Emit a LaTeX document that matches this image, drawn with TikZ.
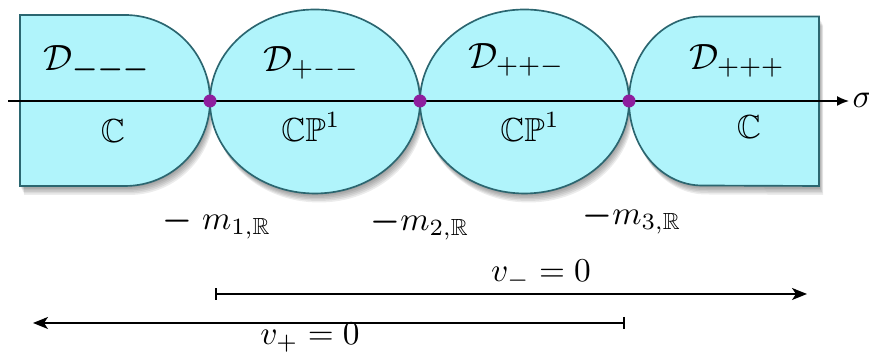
\documentclass[tikz,border=0pt]{standalone}
\usepackage{amsmath,amssymb}
\usetikzlibrary{arrows.meta}
\definecolor{regfill}{HTML}{B0F4FB}
\definecolor{regedge}{HTML}{2B6670}
\definecolor{dotcol}{HTML}{8E1E9E}
\tikzset{
  region/.style={fill=regfill, draw=regedge, line width=0.5pt},
  shadowlayer/.style={fill=black, fill opacity=0.075, draw=none},
  dot/.style={circle, fill=dotcol, draw=none, inner sep=0pt, minimum size=3.9pt},
  lbl/.style={inner sep=0pt},
  dlbl/.style={inner sep=0pt, font=\fontsize{10.95}{13}\selectfont},
  axisline/.style={line width=0.45pt, -{Latex[length=3.6pt,width=3pt]}},
  rangeline/.style={line width=0.55pt, {Bar[width=3.6pt,line width=0.55pt]}-{Stealth[length=4.5pt,width=3.6pt,inset=1.2pt]}},
  shapeL/.style={insert path={(20,15) -- (125,15) arc[start angle=90, end angle=-90, x radius=25.5pt, y radius=25.65pt] -- (20,186) -- cycle}},
  shapeA/.style={insert path={(315,101.5) ellipse [x radius=31.5pt, y radius=27.6pt]}},
  shapeB/.style={insert path={(524.5,101.5) ellipse [x radius=31.35pt, y radius=27.6pt]}},
  shapeR/.style={insert path={(819,16.5) -- (702,16.5) arc[start angle=90, end angle=270, x radius=21.9pt, y radius=25.35pt] -- (819,186) -- cycle}},
}
\begin{document}
\begin{tikzpicture}[x=0.3pt, y=-0.3pt]
\useasboundingbox (0,0) rectangle (869,354);
% soft drop shadows
\foreach \i in {1,...,6}{
  \fill[shadowlayer, shift={(0.7*\i,1.5*\i)}, shapeL];
  \fill[shadowlayer, shift={(0.7*\i,1.5*\i)}, shapeA];
  \fill[shadowlayer, shift={(0.7*\i,1.5*\i)}, shapeB];
  \fill[shadowlayer, shift={(0.7*\i,1.5*\i)}, shapeR];
}
% regions
\path[region, shapeL];
\path[region, shapeA];
\path[region, shapeB];
\path[region, shapeR];
% axis
\coordinate (ax0) at (8,101);
\coordinate (ax1) at (849,101);
\draw[axisline] (ax0) -- (ax1);
\node[lbl, anchor=west] (sig) at (852,100) {$\sigma$};
% junction points
\node[dot] (p1) at (210,101) {};
\node[dot] (p2) at (420,101) {};
\node[dot] (p3) at (629,101) {};
% region labels
\node[dlbl] (d1) at (97,63) {$\mathcal{D}_{\boldsymbol{-}\boldsymbol{-}\boldsymbol{-}}$};
\node[dlbl] (d2) at (311,63) {$\mathcal{D}_{+--}$};
\node[dlbl] (d3) at (516,60) {$\mathcal{D}_{++-}$};
\node[dlbl] (d4) at (737,61) {$\mathcal{D}_{+++}$};
\node[lbl] (c1) at (113,131) {$\mathbb{C}$};
\node[lbl] (c2) at (311,127) {$\mathbb{CP}^1$};
\node[lbl] (c3) at (530,127) {$\mathbb{CP}^1$};
\node[lbl] (c4) at (749,127) {$\mathbb{C}$};
% mass labels
\node[lbl, anchor=base] (m1) at (217,230) {$\boldsymbol{-}\;m_{1,\mathbb{R}}$};
\node[lbl, anchor=base] (m2) at (420,231) {$\boldsymbol{-}m_{2,\mathbb{R}}$};
\node[lbl, anchor=base] (m3) at (632,225) {$\boldsymbol{-}m_{3,\mathbb{R}}$};
% vacuum ranges
\coordinate (r1s) at (215,294);
\coordinate (r1e) at (807,294);
\draw[rangeline] (r1s) -- (r1e);
\node[lbl, anchor=base] (vm) at (541,282) {$v_-=0$};
\coordinate (r2s) at (625,323);
\coordinate (r2e) at (33,323);
\draw[rangeline] (r2s) -- (r2e);
\node[lbl, anchor=base] (vp) at (310,345) {$v_+=0$};
\end{tikzpicture}
\end{document}
